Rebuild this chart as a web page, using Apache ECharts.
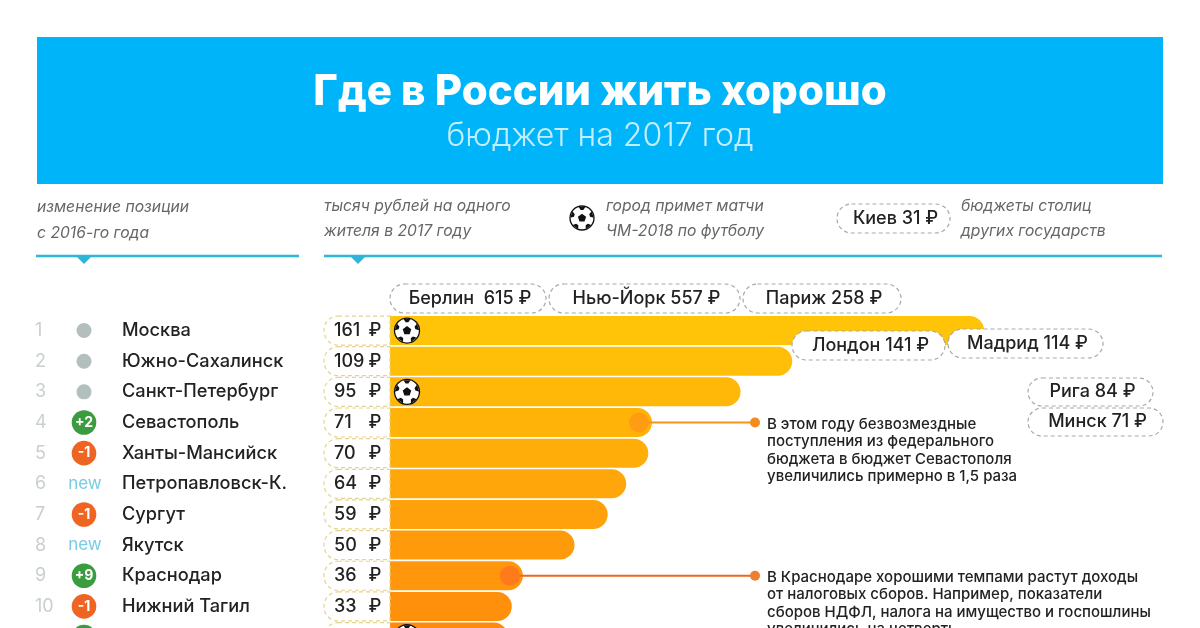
<!DOCTYPE html>
<html><head><meta charset="utf-8">
<style>html,body{margin:0;padding:0;background:#fff}#c{width:1200px;height:628px}</style>
<script src="https://cdn.jsdelivr.net/npm/echarts@6/dist/echarts.min.js"></script>
</head><body><div id="c"></div>
<script>
const cities = ['Москва','Южно-Сахалинск','Санкт-Петербург','Севастополь','Ханты-Мансийск','Петропавловск-К.','Сургут','Якутск','Краснодар','Нижний Тагил',''];
const budgets = [161,109,95,71,70,64,59,50,36,33,32];
const changes = ['0','0','0','+2','-1','new','-1','new','+9','-1','+1'];
const hosts = [1,0,1,0,0,0,0,0,0,0,1];
const capitalNames = ['Берлин  615 ₽','Нью-Йорк 557 ₽','Париж 258 ₽','Лондон 141 ₽','Мадрид 114 ₽','Рига 84 ₽','Минск 71 ₽','Киев 31 ₽'];
const noteRows = [3,8];
const noteTexts = [
 'В этом году безвозмездные\nпоступления из федерального\nбюджета в бюджет Севастополя\nувеличились примерно в 1,5 раза',
 'В Краснодаре хорошими темпами растут доходы\nот налоговых сборов. Например, показатели\nсборов НДФЛ, налога на имущество и госпошлины\nувеличились на четверть'
];

const FONT = 'Inter, "Noto Sans", sans-serif';
const capitalBoxes = [[390,284,156,29],[549,284,191,29],[743,284,158,29],[792,331,153,29],[948,329,155,29],[1028,378,125,28],[1028,408,135,28],[837,204,113,29]];

function ball(cx, cy, r) {
  const kids = [{type:'circle', z2:1, shape:{cx, cy, r}, style:{fill:'#fff', stroke:'#111', lineWidth:1.3}}];
  const pt = (a, d) => [cx + Math.cos(a) * d, cy + Math.sin(a) * d];
  const pent = [];
  for (let i = 0; i < 5; i++) pent.push(pt(-Math.PI/2 + i*2*Math.PI/5, r*0.36));
  kids.push({type:'polygon', z2:2, shape:{points:pent}, style:{fill:'#111'}});
  for (let i = 0; i < 5; i++) {
    const a = -Math.PI/2 + i*2*Math.PI/5;
    kids.push({type:'polygon', z2:2, shape:{points:[pt(a-0.3, r*0.98), pt(a+0.3, r*0.98), pt(a+0.16, r*0.68), pt(a-0.16, r*0.68)]}, style:{fill:'#111'}});
  }
  return kids;
}

function rowItem(params, api) {
  const i = params.dataIndex;
  const y = api.coord([0, i])[1];
  const kids = [];
  kids.push({type:'rect', shape:{x:324, y:y-14.5, width:66, height:29, r:[14,0,0,14]},
    style:{fill:'#fff', stroke:'#E6D48C', lineWidth:1.2, lineDash:[4,3]}});
  kids.push({type:'text', style:{x:334, y, text:String(budgets[i]), fill:'#222', font:'500 18px '+FONT, textAlign:'left', textVerticalAlign:'middle'}});
  kids.push({type:'text', style:{x:375, y, text:'₽', fill:'#222', font:'500 18px '+FONT, textAlign:'center', textVerticalAlign:'middle'}});
  kids.push({type:'text', style:{x:35, y, text:String(i+1), fill:'#C9CFCF', font:'400 18px '+FONT, textAlign:'left', textVerticalAlign:'middle'}});
  const c = changes[i];
  if (c === 'new') {
    kids.push({type:'text', style:{x:85, y, text:'new', fill:'#78CBE3', font:'400 17px '+FONT, textAlign:'center', textVerticalAlign:'middle'}});
  } else if (c === '0') {
    kids.push({type:'circle', shape:{cx:84, cy:y, r:7.5}, style:{fill:'#B3BFBC'}});
  } else {
    kids.push({type:'circle', shape:{cx:84, cy:y, r:12.3}, style:{fill:c[0]==='+' ? '#3A9C3E' : '#EF6422'}});
    kids.push({type:'text', z2:2, style:{x:84, y, text:c, fill:'#fff', font:'700 14px '+FONT, textAlign:'center', textVerticalAlign:'middle'}});
  }
  if (hosts[i]) ball(407, y, 12.5).forEach(k => kids.push(k));
  return {type:'group', children:kids};
}

function noteItem(params, api) {
  const n = params.dataIndex;
  const row = noteRows[n];
  const y = api.coord([0, row])[1];
  const end = api.coord([budgets[row], row])[0];
  const cols = n === 0 ? ['#FF9C12','#F5921E','#F58A1E'] : ['#FF7A1C','#E8681E','#EE7F2E'];
  return {type:'group', children:[
    {type:'line', shape:{x1:end-13, y1:y, x2:755, y2:y}, style:{stroke:cols[1], lineWidth:2}},
    {type:'circle', shape:{cx:end-13, cy:y, r:10}, style:{fill:cols[0]}},
    {type:'circle', shape:{cx:755, cy:y, r:5}, style:{fill:cols[2]}},
    {type:'text', style:{x:767, y:y-7, text:noteTexts[n], fill:'#222', font:'500 15px '+FONT, lineHeight:17.4, textAlign:'left', textVerticalAlign:'top'}}
  ]};
}

const T = (x, y, text, font, fill, extra) => ({type:'text', z:10, x, y, style:Object.assign({text, font, fill, textVerticalAlign:'middle'}, extra||{})});
const IT = 'italic 400 15.7px '+FONT;
const graphics = [
  {type:'rect', z:-1, shape:{x:37, y:37, width:1126, height:147}, style:{fill:'#00B4FA'}},
  T(37,207,'изменение позиции',IT,'#666'),
  T(37,233,'с 2016-го года',IT,'#666'),
  T(324,206,'тысяч рублей на одного',IT,'#666'),
  T(324,231,'жителя в 2017 году',IT,'#666'),
  T(606,206,'город примет матчи',IT,'#666'),
  T(606,231,'ЧМ-2018 по футболу',IT,'#666'),
  T(961,206,'бюджеты столиц',IT,'#666'),
  T(961,231,'других государств',IT,'#666'),
  {type:'line', z:10, shape:{x1:36,y1:256,x2:299,y2:256}, style:{stroke:'#2FB4DA', lineWidth:2.5}},
  {type:'line', z:10, shape:{x1:324,y1:256,x2:1162,y2:256}, style:{stroke:'#2FB4DA', lineWidth:2.5}},
  {type:'polygon', z:10, shape:{points:[[76,256],[92,256],[84,264]]}, style:{fill:'#2FB4DA'}},
  {type:'polygon', z:10, shape:{points:[[350,256],[366,256],[358,264]]}, style:{fill:'#2FB4DA'}},
  {type:'group', z:10, children: ball(582,218,12).map(k => Object.assign(k,{z:10}))}
];
capitalNames.forEach((t, i) => {
  const [x,y,w,h] = capitalBoxes[i];
  graphics.push({type:'rect', z:10, shape:{x,y,width:w,height:h,r:h/2}, style:{fill:'#fff', stroke:'#A9A9A9', lineWidth:1.2, lineDash:[4,3]}});
  graphics.push(T(x+w/2+2, y+h/2, t, '500 18px '+FONT, '#222', {textAlign:'center'}));
});

const chart = echarts.init(document.getElementById('c'), null, {renderer:'canvas', width:1200, height:628});
chart.setOption({
  animation:false,
  backgroundColor:'#fff',
  title:{
    text:'Где в России жить хорошо', subtext:'бюджет на 2017 год',
    left:595, top:66, textAlign:'center', itemGap:7,
    textStyle:{color:'#fff', fontFamily:FONT, fontWeight:800, fontSize:42},
    subtextStyle:{color:'#C4EEFD', fontFamily:FONT, fontWeight:300, fontSize:32}
  },
  grid:{left:390, top:315.2, width:738, height:337.2, containLabel:false, outerBoundsMode:'none'},
  xAxis:{type:'value', min:0, max:200, show:false},
  yAxis:{type:'category', inverse:true, data:cities,
    axisLine:{show:false}, axisTick:{show:false}, splitLine:{show:false},
    axisLabel:{align:'left', margin:268, color:'#222', fontFamily:FONT, fontWeight:500, fontSize:18.2, interval:0}},
  graphic:graphics,
  series:[
    {type:'bar', z:2, barWidth:29, data:budgets.map((v,i)=>({value:v, itemStyle:{
      color:echarts.color.lerp(i/10, ['#FFC407','#FF8A0D']), borderRadius:[0,14.5,14.5,0]}})),
      silent:true},
    {type:'custom', z:5, data:budgets.map((v,i)=>[v,i]), encode:{x:0,y:1}, renderItem:rowItem, silent:true},
    {type:'custom', z:6, data:noteRows.map(r=>[budgets[r],r]), encode:{x:0,y:1}, renderItem:noteItem, silent:true}
  ]
});
</script></body></html>
